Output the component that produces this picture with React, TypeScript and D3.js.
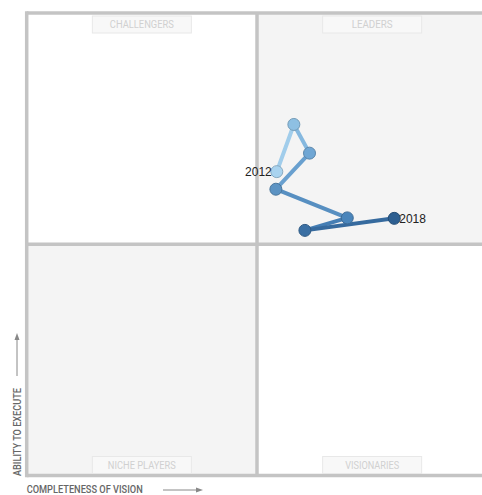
import React, { useEffect, useRef } from 'react';
import * as d3 from 'd3';

const years = ['2012', '2013', '2014', '2015', '2016', '2017', '2018'];
const vision = [54.3, 58.0, 61.4, 54.1, 69.6, 60.4, 79.8];
const execute = [65.7, 75.9, 69.7, 61.9, 55.7, 53.0, 55.6];
const pointColors = ['#a9d3ef', '#8ec0e3', '#6fa6d4', '#5c93c3', '#4a85bb', '#3a6fa3', '#2d5f91'];
const quadrants = ['CHALLENGERS', 'LEADERS', 'NICHE PLAYERS', 'VISIONARIES'];
const quadrantLabelWidths = [64, 41, 68, 54];

const W = 482;
const H = 495;

function App() {
    const ref = useRef<SVGSVGElement>(null);

    useEffect(() => {
        const svg = d3.select(ref.current);
        svg.selectAll('*').remove();

        const left = 26.7, right = 487.3, top = 13, bottom = 475.5;
        const x = d3.scaleLinear().domain([0, 100]).range([left, right]);
        const y = d3.scaleLinear().domain([0, 100]).range([bottom, top]);
        const midX = x(50), midY = y(50);

        // quadrant backgrounds
        const quads = [
            { x0: left, y0: top, fill: '#ffffff' },
            { x0: midX, y0: top, fill: '#f4f4f4' },
            { x0: left, y0: midY, fill: '#f4f4f4' },
            { x0: midX, y0: midY, fill: '#ffffff' },
        ];
        svg.selectAll('rect.quad')
            .data(quads)
            .enter()
            .append('rect')
            .attr('class', 'quad')
            .attr('x', d => d.x0)
            .attr('y', d => d.y0)
            .attr('width', midX - left)
            .attr('height', midY - top)
            .attr('fill', d => d.fill);

        // frame lines
        const stroke = '#c4c4c4';
        const frame = svg.append('g').attr('stroke', stroke).attr('stroke-width', 3.5);
        frame.append('line').attr('x1', left).attr('x2', W + 10).attr('y1', top).attr('y2', top);
        frame.append('line').attr('x1', left).attr('x2', W + 10).attr('y1', midY).attr('y2', midY);
        frame.append('line').attr('x1', left).attr('x2', W + 10).attr('y1', bottom).attr('y2', bottom);
        frame.append('line').attr('x1', left).attr('x2', left).attr('y1', top - 1.75).attr('y2', bottom + 1.75);
        frame.append('line').attr('x1', midX).attr('x2', midX).attr('y1', top).attr('y2', bottom);

        // quadrant labels
        const labelPos = [
            { cx: (left + midX) / 2, cy: top + 11.5 },
            { cx: (midX + right) / 2, cy: top + 11.5 },
            { cx: (left + midX) / 2, cy: bottom - 10.5 },
            { cx: (midX + right) / 2, cy: bottom - 10.5 },
        ];
        const lab = svg.selectAll('g.qlabel')
            .data(quadrants)
            .enter()
            .append('g')
            .attr('class', 'qlabel')
            .attr('transform', (d, i) => `translate(${labelPos[i].cx},${labelPos[i].cy})`);
        lab.append('rect')
            .attr('x', -49.5)
            .attr('y', -8.5)
            .attr('width', 99)
            .attr('height', 17)
            .attr('fill', '#f8f8f8')
            .attr('stroke', '#e8e8e8')
            .attr('stroke-width', 1);
        lab.append('text')
            .attr('text-anchor', 'middle')
            .attr('dy', '0.36em')
            .attr('font-family', 'Roboto, sans-serif')
            .attr('font-size', 11)
            .attr('fill', '#d0d0d0')
            .attr('textLength', (d, i) => quadrantLabelWidths[i])
            .attr('lengthAdjust', 'spacingAndGlyphs')
            .text(d => d);

        // axis titles
        const axisFont = 'Roboto, sans-serif';
        svg.append('text')
            .attr('x', left)
            .attr('y', 489.5)
            .attr('dy', '0.35em')
            .attr('font-family', axisFont)
            .attr('font-size', 10.5)
            .attr('font-weight', 500)
            .attr('fill', '#666')
            .attr('textLength', 116)
            .attr('lengthAdjust', 'spacingAndGlyphs')
            .text('COMPLETENESS OF VISION');
        svg.append('line')
            .attr('x1', 163).attr('x2', 199).attr('y1', 490).attr('y2', 490)
            .attr('stroke', '#888').attr('stroke-width', 1);
        svg.append('path')
            .attr('d', 'M203,490 L196,487.5 L196,492.5 Z')
            .attr('fill', '#888');

        svg.append('text')
            .attr('transform', 'translate(17,476) rotate(-90)')
            .attr('dy', '0.35em')
            .attr('font-family', axisFont)
            .attr('font-size', 10.5)
            .attr('font-weight', 500)
            .attr('fill', '#666')
            .attr('textLength', 88)
            .attr('lengthAdjust', 'spacingAndGlyphs')
            .text('ABILITY TO EXECUTE');
        svg.append('line')
            .attr('x1', 17).attr('x2', 17).attr('y1', 376).attr('y2', 337)
            .attr('stroke', '#888').attr('stroke-width', 1);
        svg.append('path')
            .attr('d', 'M17,333 L14.5,340 L19.5,340 Z')
            .attr('fill', '#888');

        // trajectory
        const pts = years.map((yr, i) => ({ yr, vx: vision[i], vy: execute[i], c: pointColors[i] }));
        const segs = d3.pairs(pts);
        svg.selectAll('line.seg')
            .data(segs)
            .enter()
            .append('line')
            .attr('class', 'seg')
            .attr('x1', d => x(d[0].vx))
            .attr('y1', d => y(d[0].vy))
            .attr('x2', d => x(d[1].vx))
            .attr('y2', d => y(d[1].vy))
            .attr('stroke', d => d3.interpolateRgb(d[0].c, d[1].c)(0.3))
            .attr('stroke-width', 4)
            .attr('stroke-linecap', 'round');

        svg.selectAll('circle.pt')
            .data(pts)
            .enter()
            .append('circle')
            .attr('class', 'pt')
            .attr('cx', d => x(d.vx))
            .attr('cy', d => y(d.vy))
            .attr('r', 6)
            .attr('fill', d => d.c)
            .attr('stroke', d => d3.color(d.c)!.darker(0.6).toString())
            .attr('stroke-width', 1);

        const first = pts[0];
        const last = pts[pts.length - 1];
        svg.append('text')
            .attr('x', x(first.vx) - 5)
            .attr('y', y(first.vy))
            .attr('dy', '0.36em')
            .attr('text-anchor', 'end')
            .attr('font-family', '"Liberation Sans", Arial, sans-serif')
            .attr('font-size', 12)
            .attr('fill', '#222')
            .text(first.yr);
        svg.append('text')
            .attr('x', x(last.vx) + 5)
            .attr('y', y(last.vy))
            .attr('dy', '0.36em')
            .attr('font-family', '"Liberation Sans", Arial, sans-serif')
            .attr('font-size', 12)
            .attr('fill', '#222')
            .text(last.yr);
    }, []);

    return (
        <svg
            ref={ref}
            width={W}
            height={H}
            style={{ position: 'absolute', left: 0, top: 0, background: '#fff' }}
        />
    );
}

export default App;
